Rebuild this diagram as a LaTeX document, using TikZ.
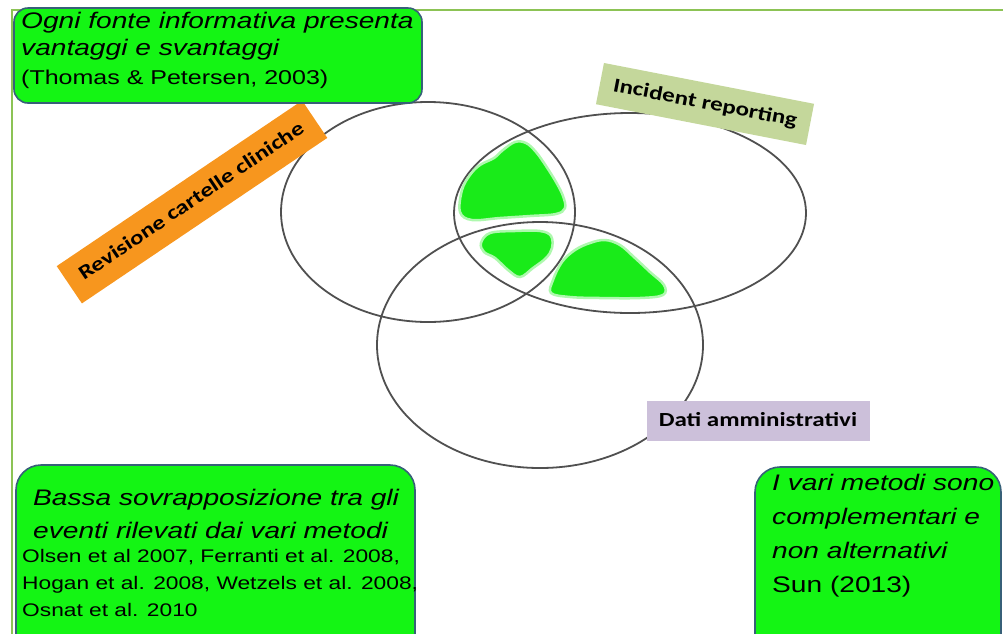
\documentclass[tikz,border=0pt]{standalone}
\usepackage{fontspec}
\setmainfont{Liberation Sans}[FakeStretch=1.25]
\newfontfamily\tagfont{Carlito}[FakeStretch=1.25]
\definecolor{framegreen}{RGB}{140,195,85}
\definecolor{boxgreen}{RGB}{20,245,20}
\definecolor{boxedge}{RGB}{55,96,120}
\definecolor{ringgray}{RGB}{80,80,80}
\definecolor{tagorange}{RGB}{247,150,30}
\definecolor{tagolive}{RGB}{196,215,155}
\definecolor{taglilac}{RGB}{204,192,218}
\definecolor{blobgreen}{RGB}{25,235,25}

\begin{document}
\begin{tikzpicture}[x=1pt,y=-1pt,
    ring/.style={draw=ringgray,line width=1.8pt},
    note/.style={fill=boxgreen,draw=boxedge,line width=1.6pt},
    notetext/.style={anchor=north west,inner sep=0pt,align=left},
    tag/.style={font=\tagfont\bfseries\fontsize{20}{24}\selectfont,
        inner sep=0pt,text height=14pt,text depth=4pt},
    blob/.style={fill=blobgreen,draw=blobgreen!35,line width=2.5pt}]
    \useasboundingbox (0,0) rectangle (1003,633);
    \clip (0,0) rectangle (1003,633);

    % cornice
    \draw[framegreen,line width=2pt] (12,645) -- (12,10) -- (1010,10);

    % i tre insiemi
    \draw[ring] (428,212) ellipse [x radius=147,y radius=110];
    \draw[ring] (630,213) ellipse [x radius=176,y radius=100];
    \draw[ring] (540,345) ellipse [x radius=163,y radius=123];

    % sovrapposizioni
    \draw[blob] plot[smooth cycle,tension=0.6] coordinates {
        (460,212) (462,190) (470,175) (480,165) (494,158) (503,150)
        (515,142) (526,143) (536,152) (546,166) (556,182) (563,196)
        (565,208) (556,214) (530,216) (500,218) (472,220)};
    \draw[blob] plot[smooth cycle,tension=0.6] coordinates {
        (481,243) (490,233) (515,231) (540,231) (551,236) (552,248)
        (546,258) (533,268) (520,277) (508,270) (495,258) (484,252)};
    \draw[blob] plot[smooth cycle,tension=0.6] coordinates {
        (551,293) (553,280) (562,262) (575,250) (590,243) (605,240)
        (620,245) (635,258) (650,272) (664,285) (663,295) (640,298)
        (600,298) (570,297)};

    % etichette dei metodi
    \node[tag,fill=tagorange,minimum width=296pt,minimum height=45pt,
        rotate=34] (revisione) at (192,202) {Revisione cartelle cliniche};
    \node[tag,fill=tagolive,minimum width=214pt,minimum height=42pt,
        rotate=-11] (incident) at (705,104) {Incident reporting};
    \node[tag,fill=taglilac,minimum width=223pt,minimum height=40pt]
        (dati) at (758,421) {Dati amministrativi};

    % riquadri di commento
    \draw[note,rounded corners=14pt] (14,8) rectangle (422,103);
    \node[notetext,font=\itshape\fontsize{22.5}{27}\selectfont]
        (fonte) at (21,11.5)
        {Ogni fonte informativa presenta\\
         vantaggi e svantaggi\\[2pt]
         \upshape\fontsize{20}{24}\selectfont(Thomas \& Petersen, 2003)};

    \draw[note,rounded corners=25pt] (16,465) rectangle (415,660);
    \node[notetext,font=\itshape\fontsize{22.5}{33}\selectfont]
        (bassa) at (33,488.5)
        {Bassa sovrapposizione tra gli\\
         eventi rilevati dai vari metodi};
    \node[notetext,font=\fontsize{18.2}{27}\selectfont] (autori) at (22,549)
        {Olsen et al 2007, Ferranti et al. 2008,\\
         Hogan et al. 2008, Wetzels et al. 2008,\\
         Osnat et al. 2010};

    \draw[note,rounded corners=25pt] (755,467) rectangle (1001,660);
    \node[notetext,font=\itshape\fontsize{22.5}{34}\selectfont]
        (metodi) at (772,474)
        {I vari metodi sono\\
         complementari e\\
         non alternativi\\
         \upshape Sun (2013)};
\end{tikzpicture}
\end{document}
